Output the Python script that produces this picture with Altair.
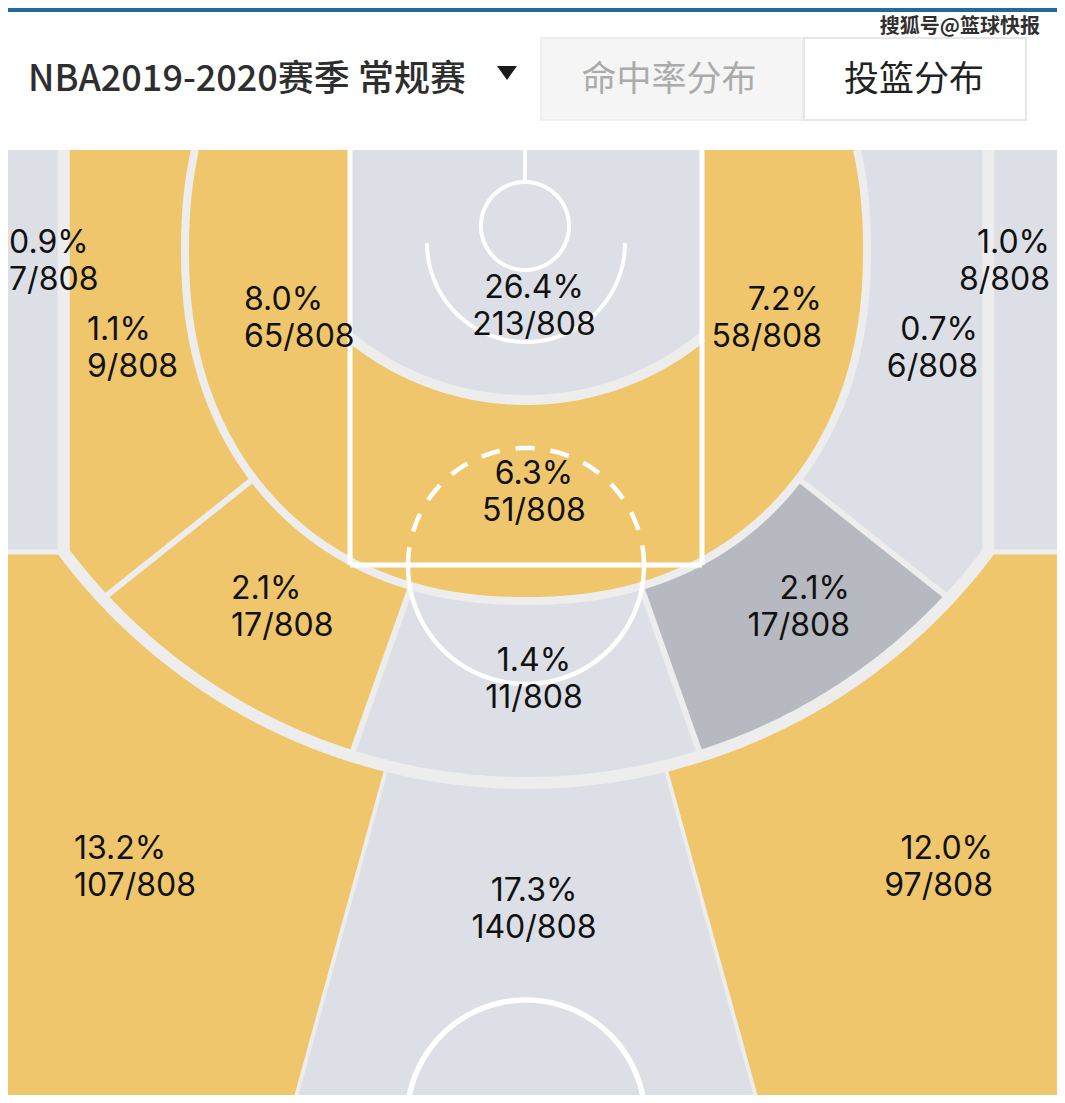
import math
import numpy as np
import pandas as pd
import altair as alt

# ---------------- values ----------------
zone_keys = ["corner3_L", "corner3_R", "baseline_mid_L", "baseline_mid_R",
             "elbow_mid_L", "elbow_mid_R", "restricted", "paint",
             "wing_mid_L", "wing_mid_R", "top_mid", "wing3_L", "top3", "wing3_R"]
zone_attempts = [7, 8, 9, 6, 65, 58, 213, 51, 17, 17, 11, 107, 140, 97]
total_attempts = 808
zone_level = ["cool", "cool", "warm", "cool", "warm", "warm", "cool",
              "warm", "warm", "cold", "cool", "warm", "cool", "warm"]
level_domain = ["warm", "cool", "cold"]
level_colors = ["#EFC66B", "#DCDFE5", "#B6B9BF"]

season_label = "NBA2019-2020赛季 常规赛"
tab_labels = ["命中率分布", "投篮分布"]
source_label = "搜狐号@篮球快报"

# ---------------- layout (pixels of the 1065x1103 picture) ----------------
label_layout = {
    "corner3_L": (9, 243, "left"),
    "corner3_R": (1050, 243, "right"),
    "baseline_mid_L": (87, 330, "left"),
    "baseline_mid_R": (978, 330, "right"),
    "elbow_mid_L": (244, 300, "left"),
    "elbow_mid_R": (822, 300, "right"),
    "restricted": (534, 288, "center"),
    "paint": (534, 474, "center"),
    "wing_mid_L": (231, 589, "left"),
    "wing_mid_R": (850, 589, "right"),
    "top_mid": (534, 661, "center"),
    "wing3_L": (74, 849, "left"),
    "top3": (534, 891, "center"),
    "wing3_R": (993, 849, "right"),
}
LINE_GAP = 37

W, H = 1049, 1087
PROJ = dict(type="identity", scale=1, translate=[-8, -8])

CX = 526.0
COURT_TOP = 150.0
HUB = (526.0, 262.0)
C3X, C3Y, R3 = 526.0, 205.0, 578.0
CORNER_Y = 552.0
CORNER_HALF = math.sqrt(R3 ** 2 - (CORNER_Y - C3Y) ** 2)
MX, MY, MA, MB, MP = 526.0, 250.0, 341.0, 351.0, 2.2
RAX, RAY, RAR = 526.0, 122.0, 278.0
LANE_L, LANE_R, FT_Y = 350.0, 702.0, 565.0
DIV_MID = [38.5, 70.5, 109.5, 141.5]
DIV_3 = [74.6, 105.4]
SEP = "#EDEDED"
STEP = 0.1


# ---------------- geometry helpers ----------------
def circle_exit(cx, cy, r, th):
    c, s = np.cos(th), np.sin(th)
    ox, oy = HUB[0] - cx, HUB[1] - cy
    b = ox * c + oy * s
    q = ox * ox + oy * oy - r * r
    return -b + np.sqrt(b * b - q)


def three_exit(th):
    c, s = np.cos(th), np.sin(th)
    t = circle_exit(C3X, C3Y, R3, th)
    y = HUB[1] + t * s
    with np.errstate(divide="ignore", invalid="ignore"):
        tl = np.where(c > 1e-9, (CX + CORNER_HALF - HUB[0]) / c,
                      np.where(c < -1e-9, (CX - CORNER_HALF - HUB[0]) / c, 1e6))
    return np.where(y >= CORNER_Y, t, tl)


def mid_exit(th):
    c, s = np.cos(th), np.sin(th)
    lo = np.zeros_like(th)
    hi = np.full_like(th, 2500.0)
    for _ in range(48):
        m = (lo + hi) / 2
        x = HUB[0] + m * c
        y = HUB[1] + m * s
        f = np.abs((x - MX) / MA) ** MP + np.abs((y - MY) / MB) ** MP - 1
        ins = f < 0
        lo = np.where(ins, m, lo)
        hi = np.where(ins, hi, m)
    return (lo + hi) / 2


def ra_exit(th):
    return circle_exit(RAX, RAY, RAR, th)


def halfplane(ax, ay, cc):
    def f(th):
        s = ax * np.cos(th) + ay * np.sin(th)
        r0 = cc - (ax * HUB[0] + ay * HUB[1])
        lo = np.full_like(th, -np.inf)
        up = np.full_like(th, np.inf)
        pos = s > 1e-12
        neg = s < -1e-12
        zer = ~(pos | neg)
        up[pos] = r0 / s[pos]
        lo[neg] = r0 / s[neg]
        if r0 < 0:
            lo[zer] = np.inf
        return lo, up
    return f


def inside_of(fn):
    return lambda th: (np.full_like(th, -np.inf), fn(th))


def outside_of(fn):
    return lambda th: (fn(th), np.full_like(th, np.inf))


below_top = halfplane(0, -1, -COURT_TOP)
in_box = [halfplane(-1, 0, 20), halfplane(1, 0, 1085), halfplane(0, 1, 1120)]
above_corner = halfplane(0, 1, CORNER_Y)
below_corner = halfplane(0, -1, -CORNER_Y)
left_of_laneL = halfplane(1, 0, LANE_L)
right_of_laneL = halfplane(-1, 0, -LANE_L)
left_of_laneR = halfplane(1, 0, LANE_R)
right_of_laneR = halfplane(-1, 0, -LANE_R)
band = [outside_of(mid_exit), inside_of(three_exit), below_top]

zone_shape = {
    "corner3_L": ((90, 270), [outside_of(three_exit), above_corner, below_top] + in_box),
    "corner3_R": ((-90, 90), [outside_of(three_exit), above_corner, below_top] + in_box),
    "baseline_mid_L": ((DIV_MID[3], 270), band),
    "baseline_mid_R": ((-90, DIV_MID[0]), band),
    "elbow_mid_L": ((0, 360), [inside_of(mid_exit), left_of_laneL, below_top]),
    "elbow_mid_R": ((-180, 180), [inside_of(mid_exit), right_of_laneR, below_top]),
    "restricted": ((-180, 180), [inside_of(ra_exit), right_of_laneL, left_of_laneR, below_top]),
    "paint": ((0, 360), [outside_of(ra_exit), right_of_laneL, left_of_laneR,
                         inside_of(mid_exit), below_top]),
    "wing_mid_L": ((DIV_MID[2], DIV_MID[3]), band),
    "wing_mid_R": ((DIV_MID[0], DIV_MID[1]), band),
    "top_mid": ((DIV_MID[1], DIV_MID[2]), band),
    "wing3_L": ((DIV_3[1], 270), [outside_of(three_exit), below_corner] + in_box),
    "top3": ((DIV_3[0], DIV_3[1]), [outside_of(three_exit)] + in_box),
    "wing3_R": ((-90, DIV_3[0]), [outside_of(three_exit), below_corner] + in_box),
}


def r2(v):
    return round(float(v), 2)


def zone_ring(a0, a1, cons):
    th = np.radians(np.arange(a0, a1 + 1e-9, STEP))
    tmin = np.zeros_like(th)
    tmax = np.full_like(th, np.inf)
    for c in cons:
        lo, up = c(th)
        tmin = np.maximum(tmin, lo)
        tmax = np.minimum(tmax, up)
    valid = (tmax - tmin) > 0.2
    best, cur, start = (0, 0), 0, 0
    for i, v in enumerate(valid):
        if v:
            if cur == 0:
                start = i
            cur += 1
            if cur > best[1] - best[0]:
                best = (start, start + cur)
        else:
            cur = 0
    sl = slice(best[0], best[1])
    th, tmin, tmax = th[sl], tmin[sl], tmax[sl]
    c, s = np.cos(th), np.sin(th)
    outer = [[r2(HUB[0] + t * cc), r2(HUB[1] + t * ss)] for t, cc, ss in zip(tmax, c, s)]
    if np.all(tmin < 1e-6):
        pts = outer
    else:
        inner = [[r2(HUB[0] + t * cc), r2(HUB[1] + t * ss)] for t, cc, ss in zip(tmin, c, s)]
        pts = outer + inner[::-1]
    pts.append(pts[0])
    return [pts]


def feature(kind, coords, **props):
    return {"type": "Feature", "geometry": {"type": kind, "coordinates": coords},
            "properties": props}


def arc(cx, cy, r, a0, a1, n=240):
    a = np.radians(np.linspace(a0, a1, n))
    return [[r2(cx + r * math.cos(v)), r2(cy + r * math.sin(v))] for v in a]


def seg(p, q):
    return [[r2(p[0]), r2(p[1])], [r2(q[0]), r2(q[1])]]


def ray_point(deg, t):
    a = math.radians(deg)
    return (HUB[0] + t * math.cos(a), HUB[1] + t * math.sin(a))


# ---------------- zone features ----------------
zone_features = []
for key, n, lvl in zip(zone_keys, zone_attempts, zone_level):
    (a0, a1), cons = zone_shape[key]
    zone_features.append(feature("Polygon", zone_ring(a0, a1, cons), zone=key, level=lvl, attempts=n))

# ---------------- separator bands ----------------
phi_corner = math.degrees(math.atan2(CORNER_Y - C3Y, CORNER_HALF))
three_line = ([[r2(CX - CORNER_HALF), COURT_TOP], [r2(CX - CORNER_HALF), CORNER_Y]]
              + arc(C3X, C3Y, R3, 180 - phi_corner, phi_corner, 400)
              + [[r2(CX + CORNER_HALF), CORNER_Y], [r2(CX + CORNER_HALF), COURT_TOP]])

s_top = -((MY - COURT_TOP) / MB) ** (MP / 2)
phi_top = math.asin(s_top)
phis = np.linspace(math.pi - phi_top, phi_top, 500)
mid_line = []
for p in phis:
    cp, sp = math.cos(p), math.sin(p)
    mid_line.append([r2(MX + MA * math.copysign(abs(cp) ** (2 / MP), cp)),
                     r2(MY + MB * math.copysign(abs(sp) ** (2 / MP), sp))])

ra_a = math.degrees(math.atan2(math.sqrt(RAR ** 2 - (CX - LANE_L) ** 2), -(CX - LANE_L)))

sep_features = [
    feature("LineString", three_line, w=12),
    feature("LineString", seg((-20, CORNER_Y), (CX - CORNER_HALF, CORNER_Y)), w=5),
    feature("LineString", seg((CX + CORNER_HALF, CORNER_Y), (1085, CORNER_Y)), w=5),
    feature("LineString", mid_line, w=8),
    feature("LineString", arc(RAX, RAY, RAR, ra_a, 180 - ra_a, 200), w=10),
]
for d in DIV_MID:
    th = np.radians(np.array([d]))
    sep_features.append(feature("LineString",
                                seg(ray_point(d, mid_exit(th)[0]), ray_point(d, three_exit(th)[0])), w=6))
for d in DIV_3:
    th = np.radians(np.array([d]))
    sep_features.append(feature("LineString",
                                seg(ray_point(d, three_exit(th)[0]), ray_point(d, 1500)), w=4))

# ---------------- white court lines ----------------
court_features = [
    feature("LineString", seg((LANE_L, COURT_TOP), (LANE_L, FT_Y)), w=5),
    feature("LineString", seg((LANE_R, COURT_TOP), (LANE_R, FT_Y)), w=5),
    feature("LineString", seg((LANE_L, FT_Y), (LANE_R, FT_Y)), w=5),
    feature("LineString", arc(CX, 566, 118, 0, 180), w=4.5),
    feature("LineString", arc(525, 226, 44, 0, 360), w=4),
    feature("LineString", seg((525, COURT_TOP), (525, 182)), w=4),
    feature("LineString", arc(CX, 243, 99, 0, 180), w=4),
    feature("LineString", arc(CX, 1119, 119, 180, 360), w=5.5),
]
dashed_features = [feature("LineString", arc(CX, 566, 118, 180, 360), w=4.5)]

# ---------------- header pieces ----------------
def rect(x0, y0, x1, y1):
    return [[[x0, y0], [x1, y0], [x1, y1], [x0, y1], [x0, y0]]]

header_features = [
    feature("Polygon", rect(-20, -20, 1085, 12), fill="#1F6B9B", stroke="#1F6B9B", sw=0),
    feature("Polygon", rect(541, 38, 803, 120), fill="#F5F5F5", stroke="#EBEBEB", sw=1.5),
    feature("Polygon", rect(804, 38, 1026, 120), fill="#FFFFFF", stroke="#E6E6E6", sw=2),
    feature("Polygon", [[[497, 66], [517, 66], [507, 80], [497, 66]]], fill="#1A1A1A", stroke="#1A1A1A", sw=0),
]

# ---------------- label table ----------------
rows = []
for key, n in zip(zone_keys, zone_attempts):
    x, y, al = label_layout[key]
    rows.append({"lon": x, "lat": y, "text": f"{100 * n / total_attempts:.1f}%", "align": al})
    rows.append({"lon": x, "lat": y + LINE_GAP, "text": f"{n}/{total_attempts}", "align": al})
labels = pd.DataFrame(rows)

header_text = pd.DataFrame([
    {"lon": 28, "lat": 80, "text": season_label, "align": "left", "color": "#2E2E2E"},
    {"lon": 669, "lat": 80, "text": tab_labels[0], "align": "center", "color": "#ABABAB"},
    {"lon": 914, "lat": 80, "text": tab_labels[1], "align": "center", "color": "#222222"},
    {"lon": 1040, "lat": 27, "text": source_label, "align": "right", "color": "#303030"},
])


# ---------------- layers ----------------
def geo(features, **mark):
    return alt.Chart(alt.Data(values=features)).mark_geoshape(clip=True, **mark).project(**PROJ)


header_shapes = geo(header_features).encode(
    fill=alt.Fill("properties.fill:N", scale=None),
    stroke=alt.Stroke("properties.stroke:N", scale=None),
    strokeWidth=alt.StrokeWidth("properties.sw:Q", scale=None),
)

zones = geo(zone_features, strokeWidth=0).encode(
    color=alt.Color("properties.level:N",
                    scale=alt.Scale(domain=level_domain, range=level_colors), legend=None),
)

separators = geo(sep_features, filled=False, stroke=SEP, strokeCap="butt", strokeJoin="round").encode(
    strokeWidth=alt.StrokeWidth("properties.w:Q", scale=None))

court_lines = geo(court_features, filled=False, stroke="#FFFFFF", strokeCap="butt").encode(
    strokeWidth=alt.StrokeWidth("properties.w:Q", scale=None))

dashed_lines = geo(dashed_features, filled=False, stroke="#FFFFFF", strokeCap="butt",
                   strokeDash=[19, 16]).encode(
    strokeWidth=alt.StrokeWidth("properties.w:Q", scale=None))


def label_layer(align):
    return alt.Chart(labels).transform_filter(alt.datum.align == align).mark_text(
        align=align, baseline="middle", font="Inter", fontSize=32, color="#111111"
    ).encode(longitude="lon:Q", latitude="lat:Q", text="text:N").project(**PROJ)


title_layer = alt.Chart(header_text).transform_filter(alt.datum.align == "left").mark_text(
    align="left", baseline="middle", font="Noto Sans CJK SC", fontSize=36, fontWeight=500, color="#2E2E2E"
).encode(longitude="lon:Q", latitude="lat:Q", text="text:N").project(**PROJ)

tabs_layer = alt.Chart(header_text).transform_filter(alt.datum.align == "center").mark_text(
    align="center", baseline="middle", font="Noto Sans CJK SC", fontSize=35, fontWeight=400
).encode(longitude="lon:Q", latitude="lat:Q", text="text:N",
         color=alt.Color("color:N", scale=None)).project(**PROJ)

source_layer = alt.Chart(header_text).transform_filter(alt.datum.align == "right").mark_text(
    align="right", baseline="middle", font="Noto Sans CJK SC", fontSize=20, fontWeight="bold", color="#303030"
).encode(longitude="lon:Q", latitude="lat:Q", text="text:N").project(**PROJ)

chart = alt.layer(
    header_shapes, zones, separators, court_lines, dashed_lines,
    label_layer("left"), label_layer("center"), label_layer("right"),
    title_layer, tabs_layer, source_layer,
).properties(
    width=W, height=H, background="white", padding=0,
    autosize=alt.AutoSizeParams(type="none"),
).configure_view(stroke=None)

chart.save("out.html", embed_options={"renderer": "svg", "actions": False})
